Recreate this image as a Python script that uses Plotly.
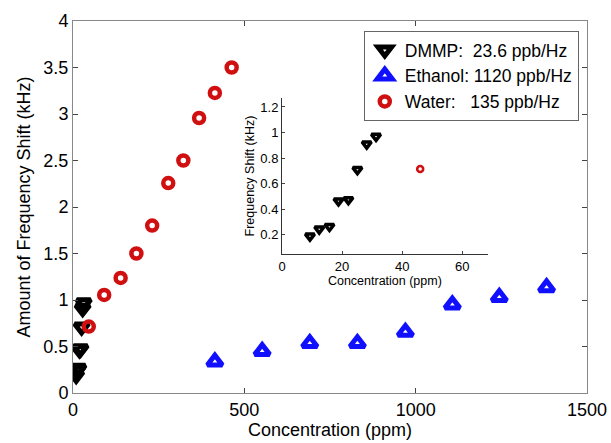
import plotly.graph_objects as go

# DMMP data (ppm, kHz)
dmmp_x = [9.3, 12.4, 15.8, 18.8, 22.1, 25.1, 28.2, 31.3]
dmmp_y = [0.19, 0.245, 0.265, 0.465, 0.475, 0.71, 0.91, 0.97]

# Ethanol data
eth_x = [414, 552, 691, 830, 970, 1107, 1244, 1382]
eth_y = [0.337, 0.45, 0.535, 0.535, 0.655, 0.95, 1.03, 1.135]

# Water data
wat_x = [46, 91, 139, 185, 231, 278, 322, 368, 414, 463]
wat_y = [0.715, 1.055, 1.237, 1.50, 1.80, 2.258, 2.50, 2.957, 3.226, 3.50]

# Inset data (low concentration)
ins_water_x = [46]
ins_water_y = [0.715]

legend_names = ["DMMP:\u00a0\u00a023.6 ppb/Hz", "Ethanol: 1120 ppb/Hz", "Water:\u00a0\u00a0\u00a0135 ppb/Hz"]

FONT = "Liberation Sans, Arial, Helvetica, sans-serif"

fig = go.Figure()
fig.add_trace(go.Scatter(x=dmmp_x, y=dmmp_y, mode="markers", name=legend_names[0],
                         marker=dict(symbol="triangle-down-open", size=12, color="black", line=dict(width=5, color="black"))))
fig.add_trace(go.Scatter(x=eth_x, y=eth_y, mode="markers", name=legend_names[1],
                         marker=dict(symbol="triangle-up-open", size=13, color="#1010ff", line=dict(width=5, color="#1010ff"))))
fig.add_trace(go.Scatter(x=wat_x, y=wat_y, mode="markers", name=legend_names[2],
                         marker=dict(symbol="circle-open", size=10, color="#d01010", line=dict(width=4.5, color="#d01010"))))

# inset
fig.add_trace(go.Scatter(x=dmmp_x, y=dmmp_y, mode="markers", showlegend=False, xaxis="x2", yaxis="y2",
                         marker=dict(symbol="triangle-down-open", size=8, color="black", line=dict(width=3.5, color="black"))))
fig.add_trace(go.Scatter(x=ins_water_x, y=ins_water_y, mode="markers", showlegend=False, xaxis="x2", yaxis="y2",
                         marker=dict(symbol="circle-open", size=6, color="#d01010", line=dict(width=2.5, color="#d01010"))))

fig.update_layout(
    width=611, height=443,
    margin=dict(l=73, r=24, t=21, b=50, autoexpand=False),
    paper_bgcolor="white", plot_bgcolor="white",
    font=dict(family=FONT, color="black"),
    xaxis=dict(range=[0, 1500], tickvals=[0, 500, 1000, 1500], ticks="inside", ticklen=5, automargin=False,
               showline=True, linecolor="#888", linewidth=1, mirror="ticks", showgrid=False, zeroline=False,
               tickfont=dict(size=18), title=dict(text="Concentration (ppm)", font=dict(size=18), standoff=4)),
    yaxis=dict(range=[0, 4], tickvals=[0, 0.5, 1, 1.5, 2, 2.5, 3, 3.5, 4], automargin=False,
               ticktext=["0", "0.5", "1", "1.5", "2", "2.5", "3", "3.5", "4"],
               ticks="inside", ticklen=5,
               showline=True, linecolor="#888", linewidth=1, mirror="ticks", showgrid=False, zeroline=False,
               tickfont=dict(size=18), title=dict(text="Amount of Frequency Shift (kHz)", font=dict(size=18), standoff=8)),
    xaxis2=dict(domain=[0.4066, 0.807], anchor="y2", range=[0, 68.5], tickvals=[0, 20, 40, 60], automargin=False,
                ticks="inside", ticklen=3, showline=True, linecolor="#333", linewidth=1, showgrid=False, zeroline=False,
                tickfont=dict(size=13), title=dict(text="Concentration (ppm)", font=dict(size=12.5), standoff=2)),
    yaxis2=dict(domain=[0.3737, 0.793], anchor="x2", range=[0.05, 1.27], tickvals=[0.2, 0.4, 0.6, 0.8, 1, 1.2],
                ticktext=["0.2", "0.4", "0.6", "0.8", "1", "1.2"], automargin=False,
                ticks="inside", ticklen=3, showline=True, linecolor="#333", linewidth=1, showgrid=False, zeroline=False,
                tickfont=dict(size=13), title=dict(text="Frequency Shift (kHz)", font=dict(size=12.5), standoff=2)),
    legend=dict(x=0.984, y=0.973, xanchor="right", yanchor="top", bordercolor="#666", borderwidth=1,
                bgcolor="white", font=dict(size=17.5), tracegroupgap=0, itemsizing="trace"),
)

fig.write_html("out.html", config={"displayModeBar": False},
               post_script="document.body.style.margin='0';document.body.style.padding='0';")
